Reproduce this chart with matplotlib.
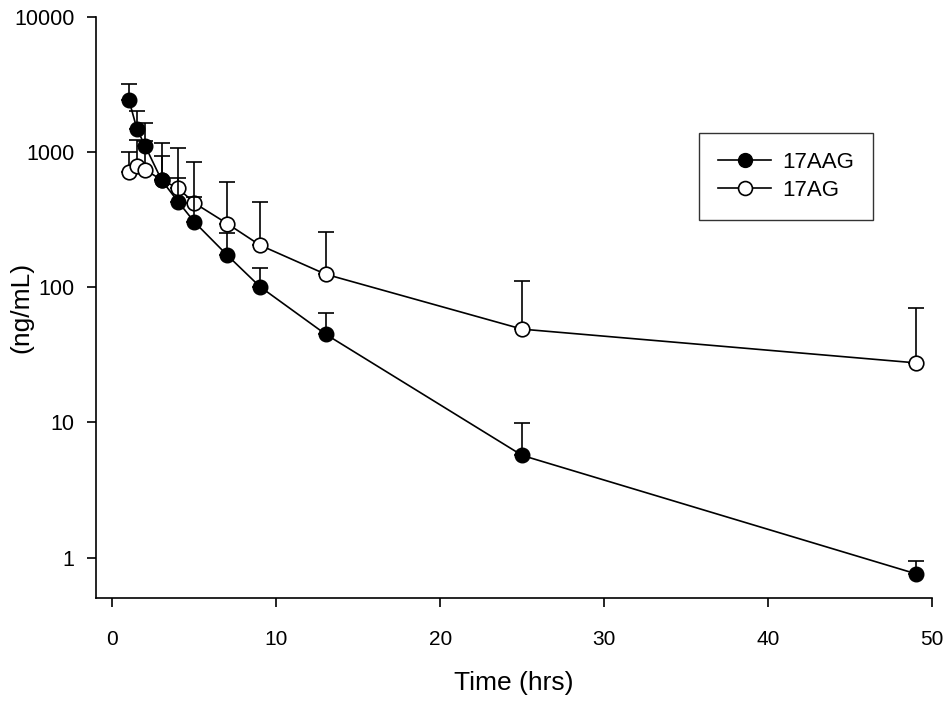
import numpy as np
import matplotlib
matplotlib.use("Agg")
import matplotlib.pyplot as plt
from matplotlib.lines import Line2D
from matplotlib.ticker import FixedLocator, NullLocator

plt.rcParams['font.family'] = ['Liberation Sans', 'DejaVu Sans']

# sampling times (hrs)
time = [1, 1.5, 2, 3, 4, 5, 7, 9, 13, 25, 49]

# 17AAG mean and upper SD
aag_mean = [2450, 1475, 1110, 620, 431, 304, 173, 101, 45, 5.7, 0.76]
aag_sd = [750, 535, 540, 315, 210, 160, 79, 39, 20, 4.15, 0.19]

# 17AG mean and upper SD
ag_mean = [716, 785, 741, 622, 541, 420, 296, 205, 125, 49, 27.6]
ag_sd = [279, 445, 460, 556, 529, 420, 310, 226, 133, 63, 43]

yticks = [1, 10, 100, 1000, 10000]
ytick_labels = ['1', '10', '100', '1000', '10000']
xticks = [0, 10, 20, 30, 40, 50]

fig = plt.figure(figsize=(9.51, 7.08), dpi=100)
ax = fig.add_axes([0.101, 0.155, 0.879, 0.821])

ax.errorbar(time, ag_mean, yerr=[np.zeros(len(ag_sd)), ag_sd], color='black',
            marker='o', markersize=10.5, markerfacecolor='white', markeredgecolor='black',
            markeredgewidth=1.2, linewidth=1.2, elinewidth=1.2, capsize=6, capthick=1.2,
            zorder=3)
ax.errorbar(time, aag_mean, yerr=[np.zeros(len(aag_sd)), aag_sd], color='black',
            marker='o', markersize=10.5, markerfacecolor='black', markeredgecolor='black',
            linewidth=1.2, elinewidth=1.2, capsize=6, capthick=1.2,
            zorder=4)

ax.set_yscale('log')
ax.set_ylim(0.5, 10000)
ax.set_xlim(-1, 50)
ax.yaxis.set_major_locator(FixedLocator(yticks))
ax.set_yticklabels(ytick_labels)
ax.yaxis.set_minor_locator(NullLocator())
ax.set_xticks(xticks)

for s in ['top', 'right']:
    ax.spines[s].set_visible(False)
for s in ['left', 'bottom']:
    ax.spines[s].set_linewidth(1.2)
ax.tick_params(axis='both', direction='out', length=6.5, width=1.2)
ax.tick_params(axis='y', labelsize=15.5, pad=9)
ax.tick_params(axis='x', labelsize=15, pad=16)

ax.set_xlabel('Time (hrs)', fontsize=19)
ax.xaxis.set_label_coords(0.5, -0.126)
ax.set_ylabel('(ng/mL)', fontsize=19)
ax.yaxis.set_label_coords(-0.075, 0.5)

handles = [
    Line2D([], [], color='black', linewidth=1.2, marker='o', markersize=10,
           markerfacecolor='black', markeredgecolor='black'),
    Line2D([], [], color='black', linewidth=1.2, marker='o', markersize=10,
           markerfacecolor='white', markeredgecolor='black', markeredgewidth=1.2),
]
leg = ax.legend(handles, ['17AAG', '17AG'], loc='upper left', bbox_to_anchor=(0.7216, 0.80),
                frameon=True, fancybox=False, fontsize=16, handlelength=2.4,
                borderpad=0.85, labelspacing=0.3, handletextpad=0.5, borderaxespad=0)
leg.get_frame().set_edgecolor('black')
leg.get_frame().set_linewidth(1.0)

fig.savefig('out.png', dpi=100)
